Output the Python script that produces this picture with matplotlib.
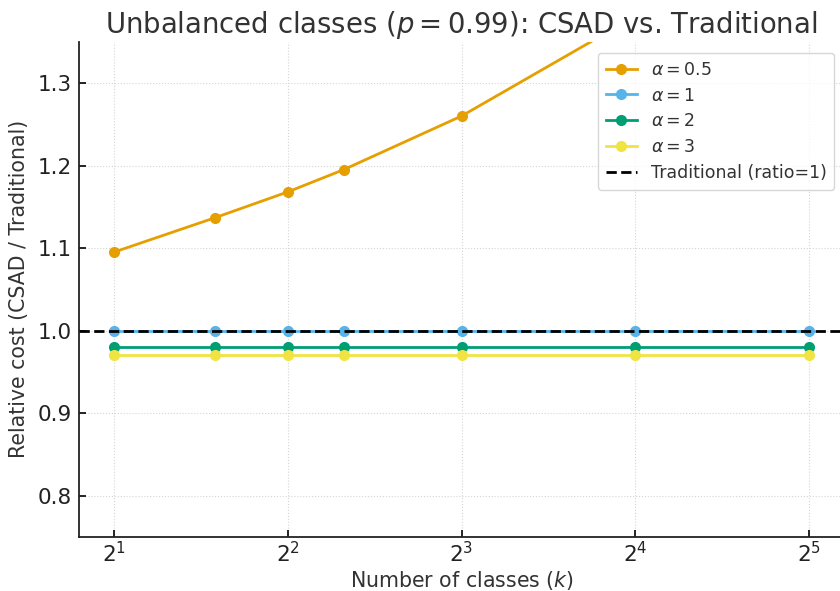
import matplotlib
matplotlib.use("Agg")
import matplotlib.pyplot as plt

# number of classes k
k = [2, 3, 4, 5, 8, 16, 32]

# relative cost CSAD / Traditional for each alpha
ratio_a05 = [1.095, 1.137, 1.168, 1.195, 1.260, 1.381, 1.55]
ratio_a1 = [1.0, 1.0, 1.0, 1.0, 1.0, 1.0, 1.0]
ratio_a2 = [0.98, 0.98, 0.98, 0.98, 0.98, 0.98, 0.98]
ratio_a3 = [0.97, 0.97, 0.97, 0.97, 0.97, 0.97, 0.97]

series = [
    (ratio_a05, r"$\alpha=0.5$", "#E69F00"),
    (ratio_a1, r"$\alpha=1$", "#56B4E9"),
    (ratio_a2, r"$\alpha=2$", "#009E73"),
    (ratio_a3, r"$\alpha=3$", "#F0E442"),
]

txt = "#333333"
plt.rcParams["font.family"] = "DejaVu Sans"

fig = plt.figure(figsize=(8.4, 5.91), dpi=100)
ax = fig.add_axes([0.094, 0.0914, 0.911, 0.838])

for vals, lab, col in series:
    ax.plot(k, vals, marker="o", markersize=7, linewidth=2, color=col, label=lab)

ax.axhline(1.0, color="black", linestyle="--", linewidth=2, label="Traditional (ratio=1)")

ax.set_xscale("log", base=2)
ax.set_ylim(0.75, 1.35)
ax.set_yticks([0.8, 0.9, 1.0, 1.1, 1.2, 1.3])

ax.grid(True, linestyle=":", linewidth=0.8, color="#d5d5d5")
ax.set_axisbelow(True)

for s in ["top", "right"]:
    ax.spines[s].set_visible(False)
for s in ["left", "bottom"]:
    ax.spines[s].set_linewidth(1.3)
    ax.spines[s].set_color("#222222")

ax.tick_params(direction="in", labelsize=15.5, labelcolor="#222222", length=5, width=1.2)
ax.tick_params(axis="x", pad=3)
ax.tick_params(axis="y", pad=5)
ax.tick_params(axis="x", which="minor", length=0)

ax.set_title(r"Unbalanced classes ($p=0.99$): CSAD vs. Traditional", fontsize=19.8, color=txt, pad=6)
ax.set_xlabel(r"Number of classes ($k$)", fontsize=14.8, color=txt, labelpad=2)
ax.set_ylabel("Relative cost (CSAD / Traditional)", fontsize=14.8, color=txt, labelpad=6)

leg = ax.legend(loc="upper right", bbox_to_anchor=(0.9985, 0.995), fontsize=12.5,
                frameon=True, fancybox=True, borderpad=0.45, labelspacing=0.45,
                handlelength=1.8)
leg.get_frame().set_edgecolor("#cccccc")
for t in leg.get_texts():
    t.set_color(txt)

fig.savefig("out.png", dpi=100)
